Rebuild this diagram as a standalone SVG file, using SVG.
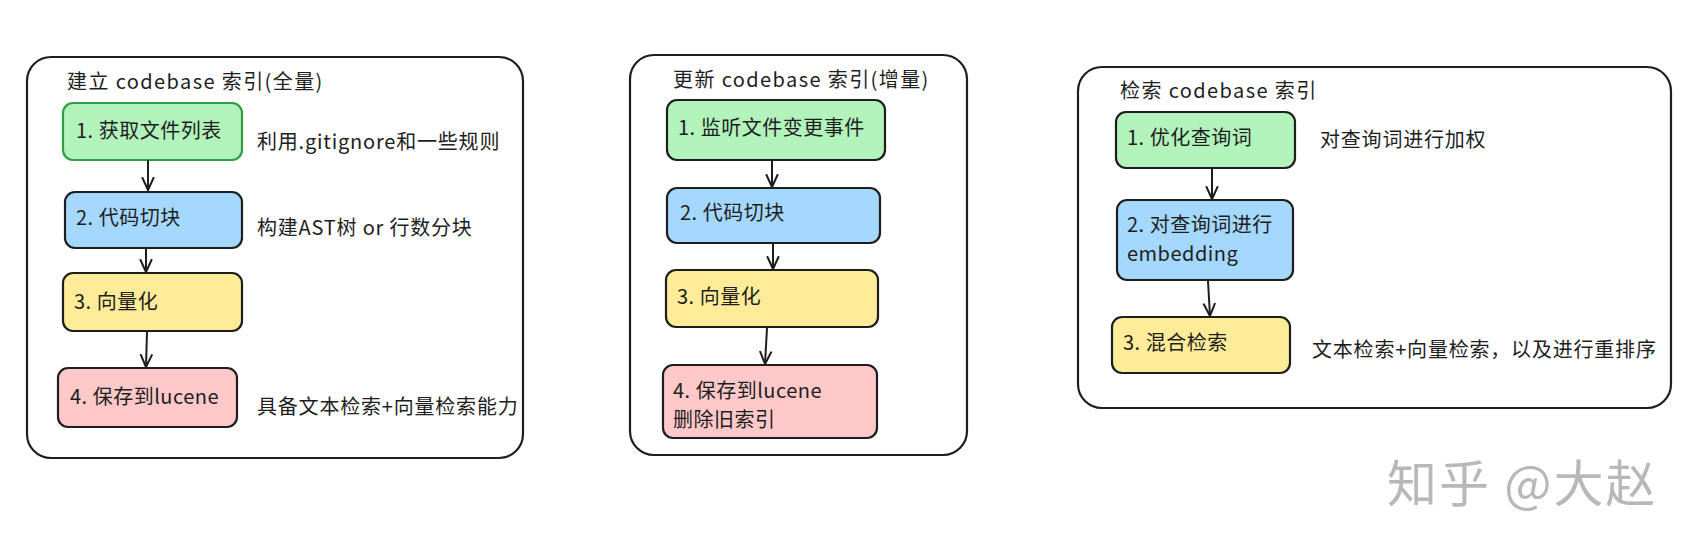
<svg xmlns="http://www.w3.org/2000/svg" width="1697" height="553" viewBox="0 0 1697 553">
<defs>
<marker id="arr" viewBox="0 0 14 14" refX="13" refY="7" markerWidth="14" markerHeight="14" markerUnits="userSpaceOnUse" orient="auto">
<path d="M1,1.5 L13,7 L1,12.5" fill="none" stroke="#1e1e1e" stroke-width="2" stroke-linecap="round" stroke-linejoin="round"/>
</marker>
<style>
text{font-family:"Noto Sans CJK SC","Noto Sans",sans-serif;font-size:20px;fill:#1e1e1e;letter-spacing:0.5px}
.title{letter-spacing:1.4px}
.note{letter-spacing:0.8px}
.panel{fill:#ffffff;stroke:#1e1e1e;stroke-width:2.2}
.node{stroke:#1e1e1e;stroke-width:2.2}
.g{fill:#b2f2bb}
.b{fill:#a5d8ff}
.y{fill:#ffec99}
.p{fill:#ffc9c9}
.edge{fill:none;stroke:#1e1e1e;stroke-width:2;stroke-linecap:round;marker-end:url(#arr)}
.wm{font-size:50px;fill:#b8b8b8;letter-spacing:2px}
</style>
</defs>
<rect width="1697" height="553" fill="#ffffff"/>

<g id="panel-full">
<rect class="panel" x="27" y="57" width="496" height="401" rx="24"/>
<text class="title" x="67" y="89">建立 codebase 索引(全量)</text>
</g>
<g id="panel-incr">
<rect class="panel" x="630" y="55" width="337" height="400" rx="24"/>
<text class="title" x="673" y="87">更新 codebase 索引(增量)</text>
</g>
<g id="panel-search">
<rect class="panel" x="1078" y="67" width="593" height="341" rx="24"/>
<text class="title" x="1120" y="98">检索 codebase 索引</text>
</g>

<g id="p1-n1">
<rect class="node g" x="63" y="103" width="179" height="57" rx="10" style="stroke:#2f9e44"/>
<text x="76" y="138">1. 获取文件列表</text>
</g>
<g id="p1-n1-note"><text class="note" x="257" y="149">利用.gitignore和一些规则</text></g>
<g id="p1-n2">
<rect class="node b" x="65" y="192" width="177" height="56" rx="10"/>
<text x="76" y="225">2. 代码切块</text>
</g>
<g id="p1-n2-note"><text class="note" x="257" y="235">构建AST树 or 行数分块</text></g>
<g id="p1-n3">
<rect class="node y" x="63" y="273" width="179" height="58" rx="10"/>
<text x="74" y="309">3. 向量化</text>
</g>
<g id="p1-n4">
<rect class="node p" x="58" y="368" width="179" height="59" rx="10"/>
<text x="70" y="404">4. 保存到lucene</text>
</g>
<g id="p1-n4-note"><text class="note" x="257" y="414">具备文本检索+向量检索能力</text></g>

<g id="p2-n1">
<rect class="node g" x="667" y="100" width="218" height="60" rx="10"/>
<text x="678" y="135">1. 监听文件变更事件</text>
</g>
<g id="p2-n2">
<rect class="node b" x="667" y="188" width="213" height="55" rx="10"/>
<text x="680" y="220">2. 代码切块</text>
</g>
<g id="p2-n3">
<rect class="node y" x="666" y="270" width="212" height="57" rx="10"/>
<text x="677" y="304">3. 向量化</text>
</g>
<g id="p2-n4">
<rect class="node p" x="663" y="365" width="214" height="73" rx="10"/>
<text x="673" y="398">4. 保存到lucene</text>
<text x="673" y="427">删除旧索引</text>
</g>

<g id="p3-n1">
<rect class="node g" x="1116" y="112" width="179" height="56" rx="10"/>
<text x="1127" y="145">1. 优化查询词</text>
</g>
<g id="p3-n1-note"><text class="note" x="1320" y="147">对查询词进行加权</text></g>
<g id="p3-n2">
<rect class="node b" x="1117" y="200" width="176" height="80" rx="10"/>
<text x="1127" y="232">2. 对查询词进行</text>
<text x="1127" y="261">embedding</text>
</g>
<g id="p3-n3">
<rect class="node y" x="1112" y="317" width="178" height="56" rx="10"/>
<text x="1123" y="350">3. 混合检索</text>
</g>
<g id="p3-n3-note"><text class="note" x="1312" y="357">文本检索+向量检索，以及进行重排序</text></g>

<g id="connectors">
<path class="edge" d="M148,161 L148,190"/>
<path class="edge" d="M146,249 L146,272"/>
<path class="edge" d="M147,332 L146,367"/>
<path class="edge" d="M772,161 L772,187"/>
<path class="edge" d="M773,244 L773,269"/>
<path class="edge" d="M767,328 L765,364"/>
<path class="edge" d="M1212,169 L1212,199"/>
<path class="edge" d="M1208,281 L1210,316"/>
</g>

<g id="watermark">
<text class="wm" x="1387" y="502">知乎 @大赵</text>
</g>
</svg>
